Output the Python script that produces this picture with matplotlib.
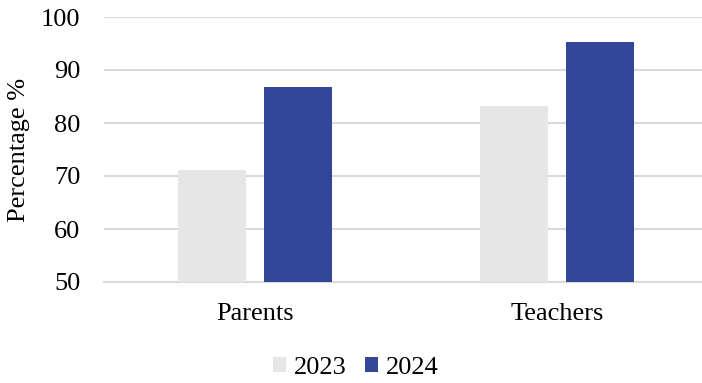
import numpy as np
import matplotlib.pyplot as plt

plt.rcParams['font.family'] = ['Liberation Serif', 'DejaVu Serif']

groups = ['Parents', 'Teachers']
years = ['2023', '2024']
values_2023 = [71.1, 83.2]
values_2024 = [86.8, 95.3]

colors = {'2023': '#E6E6E6', '2024': '#33469A'}

fig = plt.figure(figsize=(7.02, 3.83), dpi=100)
ax = fig.add_axes([104 / 702, 101 / 383, 598 / 702, 265 / 383])

x = np.arange(len(groups))
w = 0.224
ax.bar(x - 0.142, values_2023, w, color=colors['2023'], label='2023', zorder=3)
ax.bar(x + 0.142, values_2024, w, color=colors['2024'], label='2024', zorder=3)

ax.set_ylim(50, 100)
ax.set_xlim(-0.5, 1.48)
ax.set_yticks(range(50, 101, 10))
ax.set_xticks(x)
ax.set_xticklabels(groups)
ax.tick_params(axis='both', length=0, labelsize=19, colors='black')
ax.tick_params(axis='y', pad=17)
ax.tick_params(axis='x', pad=15)

ax.yaxis.grid(True, color='#D9D9D9', linewidth=1.5, zorder=0)
for s in ['top', 'right', 'left']:
    ax.spines[s].set_visible(False)
ax.spines['bottom'].set_color('#D9D9D9')
ax.spines['bottom'].set_linewidth(1.5)

ax.set_ylabel('Percentage %', fontsize=19, labelpad=8)

fig.legend(loc='center', bbox_to_anchor=(356 / 702, 1 - 368 / 383), ncol=2, frameon=False,
           fontsize=19, handlelength=0.5, handleheight=0.5, handletextpad=0.3,
           columnspacing=0.7)

fig.savefig('out.png', dpi=100)
